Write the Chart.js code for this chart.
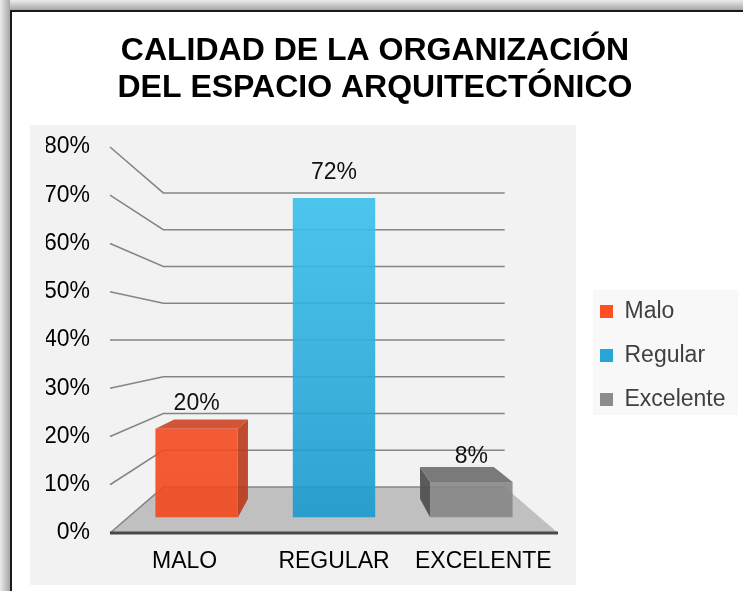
<!DOCTYPE html>
<html>
<head>
<meta charset="utf-8">
<script src="https://cdn.jsdelivr.net/npm/chart.js@4.4.0/dist/chart.umd.min.js"></script>
<style>
  html, body { margin: 0; padding: 0; background: #fff; overflow: hidden; }
  #shadowTop { position: absolute; left: 0; top: 0; width: 743px; height: 10px;
               background: linear-gradient(to bottom, #ececec, #a6a6a6); }
  #shadowLeft { position: absolute; left: 0; top: 0; width: 10px; height: 591px;
                background: linear-gradient(to right, #ececec, #a6a6a6); }
  #frame { position: absolute; left: 10px; top: 10px; width: 780px; height: 620px;
           border-left: 2px solid #1a1a1a; border-top: 2px solid #1a1a1a; background: #fff; }
  #chart { position: absolute; left: 0; top: 0; }
</style>
</head>
<body>
<div id="shadowTop"></div>
<div id="shadowLeft"></div>
<div id="frame"></div>
<canvas id="chart" width="743" height="591"></canvas>
<script>
// data
const categories = ['MALO', 'REGULAR', 'EXCELENTE'];
const seriesNames = ['Malo', 'Regular', 'Excelente'];
const values = [20, 72, 8];
const yTicks = [0, 10, 20, 30, 40, 50, 60, 70, 80];

// colours
const frontTop = ['rgba(255,84,40,0.9)', 'rgba(62,196,240,0.9)', 'rgba(142,142,142,0.9)'];
const frontBottom = ['rgba(242,72,28,0.9)', 'rgba(26,154,205,0.9)', 'rgba(134,134,134,0.9)'];
const sideColors = ['rgba(186,56,26,0.9)', 'rgba(20,120,165,0.9)', 'rgba(78,78,78,0.92)'];
const topColors = ['rgba(206,68,34,0.9)', 'rgba(40,160,205,0.9)', 'rgba(112,112,112,0.92)'];
const legendColors = ['#ff4e22', '#26a6d6', '#8c8c8c'];

// fake 3D: planes are scaled towards a vanishing point on the chart centre line
const EYE_LEVEL = 40;      // value where the gridlines run flat
const S_BACK = 0.762;      // back wall
const S_BAR_FRONT = 0.92;  // front face of the bars
const S_BAR_BACK = 0.823;  // back face of the bars

Chart.defaults.font.family = "'Liberation Sans', Arial, sans-serif";

function vanish(chart) {
  const xs = chart.scales.x, ys = chart.scales.y;
  return { x: (xs.left + xs.right) / 2, y: ys.getPixelForValue(EYE_LEVEL) };
}

function proj(vp, px, py, s) {
  return [vp.x + (px - vp.x) * s, vp.y + (py - vp.y) * s];
}

function poly(ctx, pts, fill) {
  ctx.beginPath();
  ctx.moveTo(pts[0][0], pts[0][1]);
  for (let i = 1; i < pts.length; i++) ctx.lineTo(pts[i][0], pts[i][1]);
  ctx.closePath();
  ctx.fillStyle = fill;
  ctx.fill();
}

const scene3d = {
  id: 'scene3d',
  afterLayout(chart) {
    const lg = chart.legend, a = chart.chartArea;
    const w = lg.width, h = lg.height;
    lg.left = a.right + 21; lg.right = lg.left + w;
    lg.top = a.top + 132; lg.bottom = lg.top + h;
  },
  beforeDraw(chart) {
    const { ctx, chartArea: a, legend: lg } = chart;
    ctx.save();
    ctx.fillStyle = '#f2f2f2';
    ctx.fillRect(a.left - 80, a.top - 22, a.right - a.left + 98, a.bottom - a.top + 74);
    const pad = lg.options.labels.padding;
    ctx.fillStyle = '#f8f8f8';
    ctx.fillRect(lg.left + pad - 7, lg.top + 11, 145, 125);
    ctx.restore();
  },
  beforeDatasetsDraw(chart) {
    const { ctx } = chart;
    const xs = chart.scales.x, ys = chart.scales.y;
    const vp = vanish(chart);
    const L = xs.left, R = xs.right, B = ys.getPixelForValue(yTicks[0]);

    ctx.save();
    // floor
    const bl = proj(vp, L, B, S_BACK), br = proj(vp, R, B, S_BACK);
    poly(ctx, [[L, B], [R, B], br, bl], '#c0c0c0');

    // gridlines: left wall then back wall
    ctx.strokeStyle = '#858585';
    ctx.lineWidth = 1.5;
    yTicks.forEach(v => {
      const py = ys.getPixelForValue(v);
      const p1 = proj(vp, L, py, S_BACK), p2 = proj(vp, R, py, S_BACK);
      ctx.beginPath();
      ctx.moveTo(L, py);
      ctx.lineTo(p1[0], p1[1]);
      ctx.lineTo(p2[0], p2[1]);
      ctx.stroke();
    });

    // front edge of the floor
    ctx.strokeStyle = '#484848';
    ctx.lineWidth = 3;
    ctx.beginPath();
    ctx.moveTo(L, B);
    ctx.lineTo(R, B);
    ctx.stroke();

    // visible side and top faces of each bar
    const meta = chart.getDatasetMeta(0);
    meta.data.forEach((bar, i) => {
      const { x, y, base, width } = bar.getProps(['x', 'y', 'base', 'width'], true);
      const x0 = x - width / 2, x1 = x + width / 2;
      const f = (px, py) => proj(vp, px, py, S_BAR_FRONT);
      const k = (px, py) => proj(vp, px, py, S_BAR_BACK);
      if (x1 < vp.x) poly(ctx, [f(x1, y), k(x1, y), k(x1, base), f(x1, base)], sideColors[i]);
      if (x0 > vp.x) poly(ctx, [f(x0, y), k(x0, y), k(x0, base), f(x0, base)], sideColors[i]);
      if (y > vp.y) poly(ctx, [f(x0, y), f(x1, y), k(x1, y), k(x0, y)], topColors[i]);
    });
    ctx.restore();

    // the front faces drawn by Chart.js sit in the bar plane
    ctx.save();
    ctx.translate(vp.x, vp.y);
    ctx.scale(S_BAR_FRONT, S_BAR_FRONT);
    ctx.translate(-vp.x, -vp.y);
  },
  afterDatasetsDraw(chart) {
    const { ctx } = chart;
    ctx.restore();
    const vp = vanish(chart);
    const meta = chart.getDatasetMeta(0);
    ctx.save();
    ctx.font = "23px 'Liberation Sans', Arial, sans-serif";
    ctx.fillStyle = '#111';
    ctx.textAlign = 'center';
    ctx.textBaseline = 'middle';
    meta.data.forEach((bar, i) => {
      const { x, y } = bar.getProps(['x', 'y'], true);
      const p = proj(vp, x, y, S_BAR_FRONT);
      ctx.fillText(values[i] + '%', p[0], p[1] - 25);
    });
    ctx.restore();
  }
};

function barFill(context) {
  const chart = context.chart, a = chart.chartArea;
  const i = context.dataIndex;
  if (!a) return frontTop[i];
  const g = chart.ctx.createLinearGradient(0, a.bottom, 0, a.top);
  g.addColorStop(0, frontBottom[i]);
  g.addColorStop(1, frontTop[i]);
  return g;
}

new Chart(document.getElementById('chart'), {
  type: 'bar',
  data: {
    labels: categories,
    datasets: [{
      label: 'Calidad',
      data: values,
      backgroundColor: barFill,
      borderWidth: 0,
      barPercentage: 0.6,
      categoryPercentage: 1
    }]
  },
  options: {
    responsive: false,
    animation: false,
    layout: { padding: { top: 21, left: 46, right: 39, bottom: 14 } },
    plugins: {
      title: {
        display: true,
        text: ['CALIDAD DE LA ORGANIZACIÓN', 'DEL ESPACIO ARQUITECTÓNICO'],
        color: '#000',
        font: { size: 32, weight: 'bold', lineHeight: 1.156 },
        padding: { top: 11.5, bottom: 40.5 }
      },
      legend: {
        position: 'right',
        align: 'start',
        maxWidth: 146,
        labels: {
          color: '#404040',
          font: { size: 23 },
          boxWidth: 13,
          boxHeight: 13,
          padding: 21,
          generateLabels: () => seriesNames.map((name, i) => ({
            text: name,
            fillStyle: legendColors[i],
            strokeStyle: legendColors[i],
            lineWidth: 0,
            fontColor: '#404040',
            hidden: false,
            index: i
          }))
        },
        onClick: () => {}
      },
      tooltip: { enabled: false }
    },
    scales: {
      x: {
        grid: { display: false, drawTicks: false },
        border: { display: false },
        ticks: { color: '#000', font: { size: 23 }, padding: 15 },
        afterFit: s => { s.height = 44; }
      },
      y: {
        min: yTicks[0],
        max: yTicks[yTicks.length - 1],
        grid: { display: false, drawTicks: false },
        border: { display: false },
        ticks: {
          stepSize: yTicks[1] - yTicks[0],
          color: '#000',
          font: { size: 23 },
          padding: 20,
          callback: v => v + '%'
        },
        afterFit: s => { s.width = 64; }
      }
    }
  },
  plugins: [scene3d]
});
</script>
</body>
</html>
